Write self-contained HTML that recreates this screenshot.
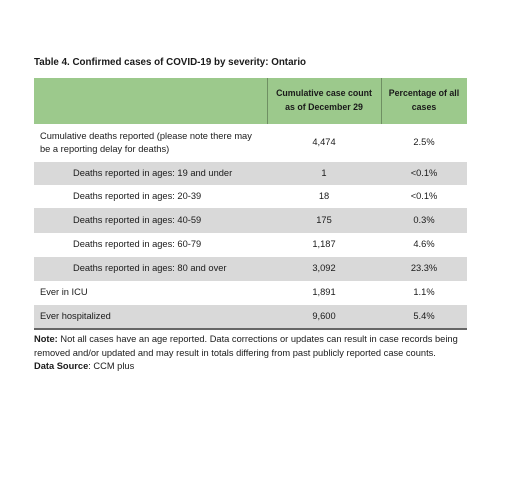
<!DOCTYPE html>
<html><head><meta charset="utf-8"><style>
body{margin:0;width:520px;height:480px;background:#fff;font-family:"Liberation Sans",sans-serif;color:#1a1a1a;position:relative;overflow:hidden}
.a{position:absolute;white-space:nowrap}
.t{font-size:9.8px;font-weight:bold;left:34px;top:57px}
.hdr{position:absolute;left:34px;top:78px;width:433px;height:46px;background:#9cc98c}
.vd{position:absolute;top:78px;height:46px;width:1px;background:#6f8f63}
.row{position:absolute;left:34px;width:433px}
.g{background:#d9d9d9}
.c{font-size:9.3px;position:absolute;white-space:nowrap}
.h{font-size:8.8px;font-weight:bold;text-align:center;position:absolute;line-height:13.5px}
</style></head><body>
<div class="a t">Table 4. Confirmed cases of COVID-19 by severity: Ontario</div>
<div class="hdr"></div>
<div class="vd" style="left:267px"></div>
<div class="vd" style="left:381px"></div>
<div class="h" style="left:267px;width:114px;top:87px">Cumulative case count<br>as of December 29</div>
<div class="h" style="left:381px;width:86px;top:87px">Percentage of all<br>cases</div>
<div id="rows"></div>
<div style="position:absolute;left:34px;top:328px;width:433px;height:1.5px;background:#666"></div>
<div class="a" style="left:34px;top:332px;font-size:9.3px;line-height:14px"><b>Note:</b> Not all cases have an age reported. Data corrections or updates can result in case records being<br>removed and/or updated and may result in totals differing from past publicly reported case counts.</div>
<div class="a" style="left:34px;top:361px;font-size:9.3px"><b>Data Source</b>: CCM plus</div>
<script>
const labels=["Cumulative deaths reported (please note there may|be a reporting delay for deaths)","Deaths reported in ages: 19 and under","Deaths reported in ages: 20-39","Deaths reported in ages: 40-59","Deaths reported in ages: 60-79","Deaths reported in ages: 80 and over","Ever in ICU","Ever hospitalized"];
const counts=["4,474","1","18","175","1,187","3,092","1,891","9,600"];
const pcts=["2.5%","<0.1%","<0.1%","0.3%","4.6%","23.3%","1.1%","5.4%"];
const tops=[124,162,185,208,233,257,281,305,329];
const indent=[0,1,1,1,1,1,0,0];
const root=document.getElementById('rows');
labels.forEach((l,i)=>{
 const r=document.createElement('div');
 
 
 r.className='row'+(i%2==1?' g':'');
 const h=tops[i+1]-tops[i];
 r.style.top=tops[i]+'px';r.style.height=h+'px';
 const parts=l.split('|');
 const a=document.createElement('div');
 
 
 a.className='c';a.style.left=(indent[i]?39:6)+'px';a.style.lineHeight='13.5px';
 a.style.top=(h/2-parts.length*6.75)+'px';a.innerHTML=parts.join('<br>');
 r.appendChild(a);
 [[counts[i],233,114],[pcts[i],347,86]].forEach(([v,x,w])=>{
  const c=document.createElement('div');
  
  
  c.className='c';c.style.left=x+'px';c.style.width=w+'px';c.style.textAlign='center';
  c.style.top=(h/2-6.75)+'px';c.style.lineHeight='13.5px';c.textContent=v;r.appendChild(c);
 });
 root.appendChild(r);
});
</script>
</body></html>
